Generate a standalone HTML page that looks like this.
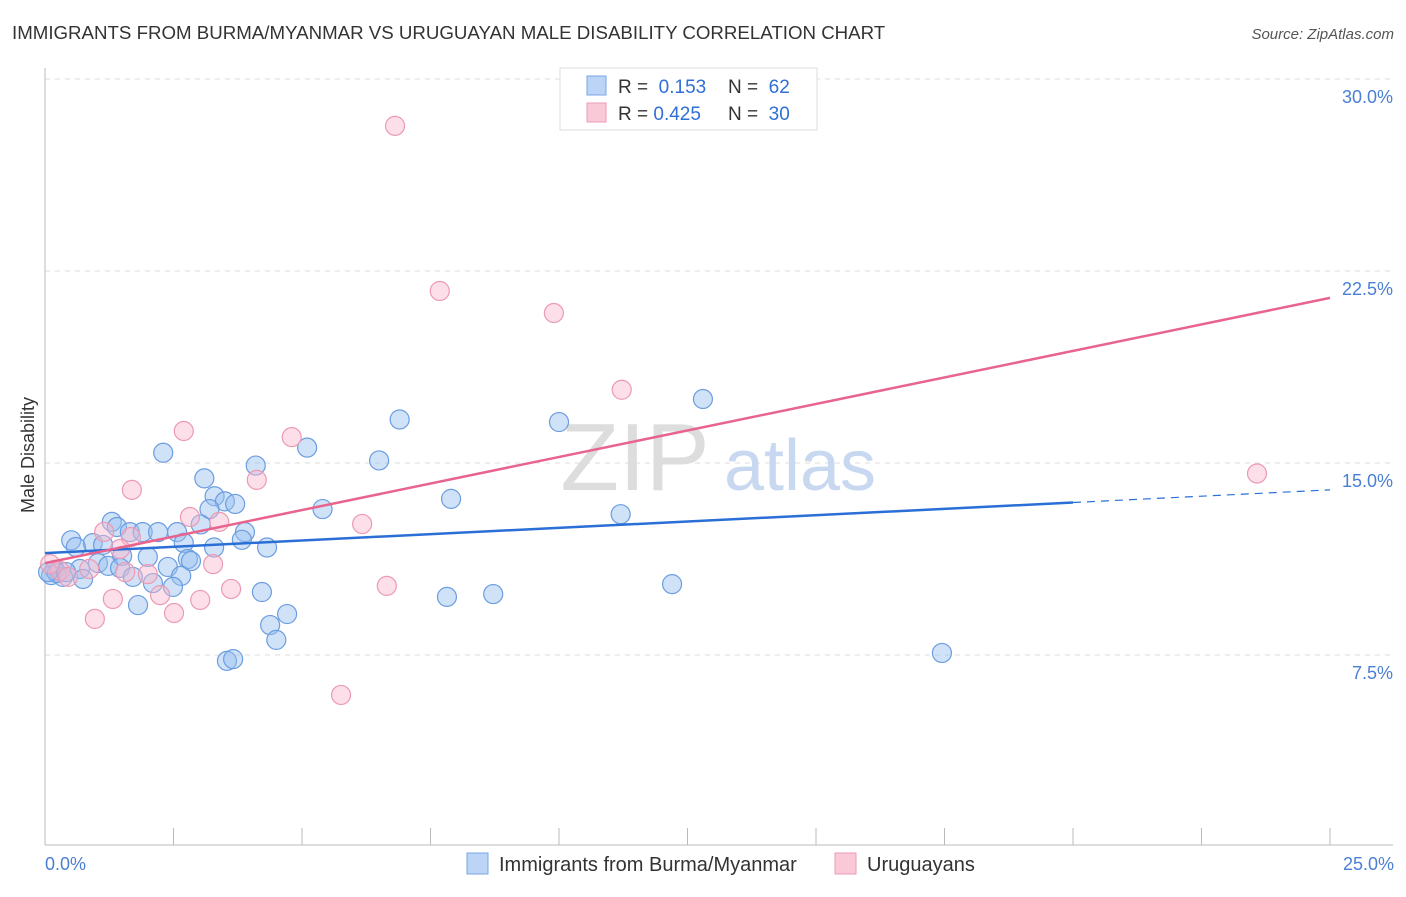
<!DOCTYPE html>
<html><head><meta charset="utf-8"><style>
body{margin:0;background:#fff;font-family:"Liberation Sans",sans-serif;}
svg text{font-family:"Liberation Sans",sans-serif;}
</style></head><body>
<svg id="chart" width="1406" height="892">
<text x="12" y="39" font-size="18.7" fill="#333">IMMIGRANTS FROM BURMA/MYANMAR VS URUGUAYAN MALE DISABILITY CORRELATION CHART</text>
<text x="1394" y="39" font-size="15" fill="#555" font-style="italic" text-anchor="end">Source: ZipAtlas.com</text>
<g id="grid"></g>
<text x="635" y="490" font-size="96" fill="#ddd" font-family="Liberation Serif" text-anchor="middle">ZIP</text>
<text x="800" y="490" font-size="72" fill="#c8d8f0" text-anchor="middle">atlas</text>
<g id="pts"></g>
<g id="lines"></g>
<text transform="translate(34,455) rotate(-90)" font-size="18" fill="#333" text-anchor="middle">Male Disability</text>
<text x="45" y="870" font-size="18" fill="#4a7fd4">0.0%</text>
<text x="1394" y="870" font-size="18" fill="#4a7fd4" text-anchor="end">25.0%</text>
<g>
<rect x="560" y="68" width="257" height="62" fill="#fff" stroke="#ddd"/>
<rect x="587" y="76" width="19" height="19" fill="#bcd4f5" stroke="#7aa6e6"/>
<rect x="587" y="103" width="19" height="19" fill="#f9c9d8" stroke="#ee9ab5"/>
<text x="618" y="93" font-size="19" fill="#333">R = <tspan fill="#2f6fd6">&#160;0.153</tspan></text>
<text x="728" y="93" font-size="19" fill="#333">N = <tspan fill="#2f6fd6">&#160;62</tspan></text>
<text x="618" y="120" font-size="19" fill="#333">R = <tspan fill="#2f6fd6">0.425</tspan></text>
<text x="728" y="120" font-size="19" fill="#333">N = <tspan fill="#2f6fd6">&#160;30</tspan></text>
</g>
<g>
<rect x="467" y="853" width="21" height="21" fill="#bcd4f5" stroke="#7aa6e6"/>
<text x="499" y="871" font-size="20" fill="#333">Immigrants from Burma/Myanmar</text>
<rect x="835" y="853" width="21" height="21" fill="#f9c9d8" stroke="#ee9ab5"/>
<text x="867" y="871" font-size="20" fill="#333">Uruguayans</text>
</g>
</svg>
<script>
const yTicks=[7.5,15,22.5,30];
const yTickLabels=["7.5%","15.0%","22.5%","30.0%"];
const xTicks=[0,2.5,5,7.5,10,12.5,15,17.5,20,22.5,25];
const blueX=[2.3,3.1,4.1,5.1,6.5,6.9,10.0,12.8,7.9,5.4,11.2,3.3,3.5,3.7,3.2,1.3,1.4,1.65,1.9,2.2,2.57,3.03,3.89,3.83,3.29,4.32,0.51,0.93,1.13,0.6,1.5,2.0,2.7,2.78,2.84,2.39,1.03,1.23,1.46,0.68,0.19,0.12,0.35,0.74,1.71,2.1,2.65,2.49,1.81,4.22,4.71,4.38,4.5,3.54,3.66,7.82,8.72,12.2,17.45,0.23,0.06,0.41];
const blueY=[15.4,14.4,14.9,15.6,15.1,16.7,16.6,17.5,13.6,13.2,13.0,13.7,13.5,13.4,13.2,12.7,12.5,12.3,12.3,12.3,12.3,12.6,12.3,12.0,11.7,11.7,11.98,11.87,11.8,11.72,11.37,11.33,11.88,11.25,11.17,10.94,11.09,10.98,10.9,10.86,10.82,10.62,10.55,10.47,10.55,10.31,10.59,10.16,9.45,9.96,9.1,8.67,8.09,7.27,7.34,9.77,9.88,10.27,7.58,10.7,10.74,10.74];
const pinkX=[6.81,7.68,9.9,11.22,23.58,2.7,4.8,4.12,1.69,3.39,2.82,6.17,1.15,1.67,1.46,3.27,6.65,3.62,2.24,1.32,3.02,2.51,0.97,5.76,2.0,1.56,0.86,0.29,0.1,0.45];
const pinkY=[28.17,21.72,20.86,17.86,14.59,16.25,16.01,14.34,13.95,12.7,12.89,12.62,12.31,12.11,11.64,11.05,10.2,10.08,9.84,9.69,9.65,9.14,8.91,5.94,10.66,10.74,10.86,10.78,11.05,10.55];
const blueLine=[11.48,13.95];
const pinkLine=[11.09,21.45];
const NS="http://www.w3.org/2000/svg";
const sx=v=>45+v/25*1285, sy=v=>847-v*25.6;
function mk(tag,at,parent){const e=document.createElementNS(NS,tag);for(const k in at)e.setAttribute(k,at[k]);document.getElementById(parent).appendChild(e);return e;}
yTicks.forEach((t,i)=>{
 const l=mk('line',{x1:45,x2:1393,y1:sy(t),y2:sy(t),stroke:'#ddd','stroke-dasharray':'5,5'},'grid');
 
 
 const tx=mk('text',{x:1393,y:sy(t)+24,'font-size':18,fill:'#4a7fd4','text-anchor':'end'},'grid');
 tx.textContent=yTickLabels[i];
 
 
});
let a=mk('line',{x1:45,x2:45,y1:68,y2:845,stroke:'#bbb'},'grid');


a=mk('line',{x1:45,x2:1393,y1:845,y2:845,stroke:'#bbb'},'grid');


xTicks.forEach(t=>{const l=mk('line',{x1:sx(t),x2:sx(t),y1:828,y2:845,stroke:'#bbb'},'grid');
 
 });
blueX.forEach((x,i)=>{const c=mk('circle',{cx:sx(x),cy:sy(blueY[i]),r:9.5,fill:'rgba(150,190,240,0.45)',stroke:'#6b9de0','stroke-width':1.2},'pts');
 
 });
pinkX.forEach((x,i)=>{const c=mk('circle',{cx:sx(x),cy:sy(pinkY[i]),r:9.5,fill:'rgba(248,185,205,0.45)',stroke:'#ec9ab4','stroke-width':1.2},'pts');
 
 });
const by=x=>blueLine[0]+(blueLine[1]-blueLine[0])*x/25;
let l=mk('line',{x1:sx(0),y1:sy(by(0)),x2:sx(20),y2:sy(by(20)),stroke:'#2a6fd6','stroke-width':2.5},'lines');


l=mk('line',{x1:sx(20),y1:sy(by(20)),x2:sx(25),y2:sy(by(25)),stroke:'#2a6fd6','stroke-width':1.2,'stroke-dasharray':'8,6'},'lines');


l=mk('line',{x1:sx(0),y1:sy(pinkLine[0]),x2:sx(25),y2:sy(pinkLine[1]),stroke:'#e8648e','stroke-width':2.5},'lines');


</script>
</body></html>
